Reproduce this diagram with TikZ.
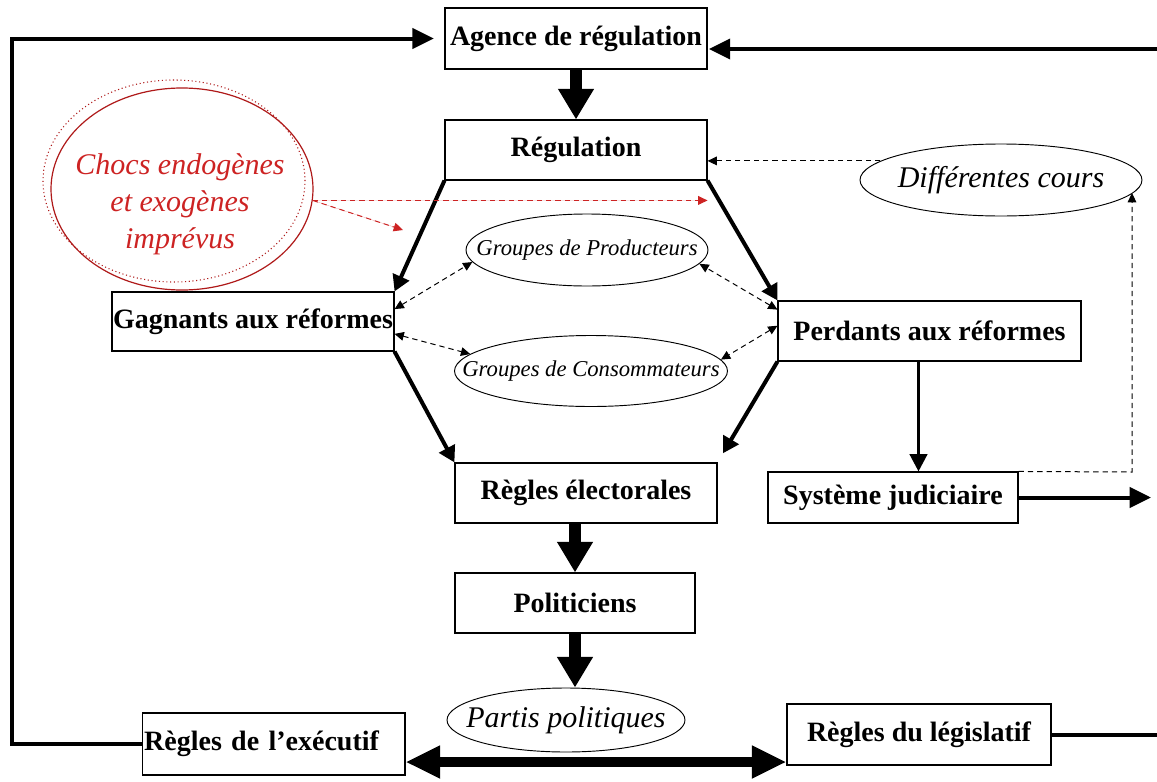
\documentclass[tikz,border=0pt]{standalone}
\usepackage{fontspec}
\setmainfont{Liberation Serif}
\usetikzlibrary{arrows.meta,shapes.geometric}
\definecolor{chocred}{RGB}{205,35,35}
\definecolor{chocline}{RGB}{175,25,25}
\begin{document}
\begin{tikzpicture}[x=0.75pt,y=-0.75pt,
  box/.style={draw, line width=0.8pt, fill=white, inner sep=0pt, font=\fontsize{21}{25}\selectfont\bfseries},
  oval/.style={draw, ellipse, line width=0.7pt, inner sep=0pt},
  ovaltext/.style={font=\fontsize{22.5}{27}\selectfont\itshape, inner sep=0pt},
  smallovaltext/.style={font=\fontsize{17}{20}\selectfont\itshape, inner sep=0pt},
  blockarrow/.style={line width=9pt, -{Triangle[length=23pt,width=25.5pt]}},
  heavy/.style={line width=3pt, -{Triangle[length=12pt,width=13pt]}},
  medarrow/.style={line width=2.4pt, -{Triangle[length=13pt,width=13pt]}},
  feed/.style={line width=3pt, -{Triangle[length=16pt,width=15pt]}},
  plainline/.style={line width=3pt},
  dashlink/.style={line width=0.75pt, dash pattern=on 4pt off 3pt, -{Triangle[length=7pt,width=6.5pt]}},
  dashboth/.style={line width=0.75pt, dash pattern=on 4pt off 3pt, {Triangle[length=7pt,width=6.5pt]}-{Triangle[length=7pt,width=6.5pt]}},
  reddash/.style={dashlink, draw=chocred, fill=chocred},
]
\useasboundingbox (0,0) rectangle (1157,782);
\fill[white] (0,0) rectangle (1157,782);

% boxes
\node[box, minimum width=196.5pt, minimum height=45.75pt] (agence) at (576,38.5) {Agence de régulation};
\node[box, minimum width=196.5pt, minimum height=45pt] (regul) at (576,150) {Régulation};
\node[box, minimum width=211.5pt, minimum height=44.25pt] (gagn) at (253,321.5) {Gagnants aux réformes};
\node[box, minimum width=227.25pt, minimum height=45pt] (perd) at (929.5,331) {Perdants aux réformes};
\node[box, minimum width=187.5pt, minimum height=38.25pt] (syst) at (893,497.5) {Système judiciaire};
\node[box, minimum width=196.5pt, minimum height=45pt] (elect) at (586,493) {Règles électorales};
\node[box, minimum width=180pt, minimum height=45pt] (polit) at (575,603) {Politiciens};
\node[box, minimum height=46.5pt, text width=194pt, inner xsep=1.6pt, align=left] (exec) at (273.5,744) {Règles de l’exécutif};
\node[box, minimum width=198pt, minimum height=45.75pt] (legis) at (919,734.5) {Règles du législatif};

% ellipses
\node[ellipse, draw=chocline, dotted, line width=0.8pt, minimum width=196.5pt, minimum height=151.5pt, inner sep=0pt] (chocsdots) at (174,181) {};
\node[ellipse, draw=chocline, line width=0.9pt, minimum width=196.5pt, minimum height=151.5pt, inner sep=0pt] (chocs) at (182,189) {};
\node[text=chocred, align=center, inner sep=0pt, font=\fontsize{22.5}{27.75}\selectfont\itshape] (chocstxt) at (180,204) {Chocs endogènes\\et exogènes\\imprévus};

\node[oval, minimum width=211.5pt, minimum height=54pt, label={[ovaltext]center:Différentes cours}] (diff) at (1001,180) {};
\node[oval, minimum width=181.5pt, minimum height=54pt, label={[smallovaltext]center:Groupes de Producteurs}] (prod) at (587,250) {};
\node[oval, minimum width=204.75pt, minimum height=53.25pt, label={[smallovaltext]center:Groupes de Consommateurs}] (cons) at (591,371) {};
\node[oval, minimum width=178.5pt, minimum height=48pt, label={[ovaltext]center:Partis politiques}] (partis) at (566,720) {};

% block arrows
\draw[blockarrow] (agence.south) -- (regul.north);
\draw[blockarrow] (polit.north |- elect.south) -- (polit.north);
\draw[blockarrow] (polit.south) -- (polit.south |- partis.north);

% hexagon
\draw[heavy] (regul.south west) -- (gagn.north east);
\draw[heavy] (regul.south east) -- (perd.north west);
\draw[heavy] (gagn.south east) -- (elect.north west);
\draw[heavy, shorten >=8pt] (perd.south west) -- (elect.north east);

% perdants -> systeme
\draw[medarrow] ([xshift=-8.25pt]perd.south) -- ([xshift=-8.25pt]perd.south |- syst.north);

% feedback lines
\coordinate (lb) at (12,744);
\coordinate (lt) at (12,38.5);
\draw[feed, shorten >=8pt, line join=miter] (exec.west) -- (lb) -- (lt) -- (agence.west);
\coordinate (rt) at (1157,49);
\draw[feed, shorten >=1pt] (rt) -- (rt -| agence.east);
\coordinate (rb) at (1157,734.5);
\draw[plainline] (legis.east) -- (rb);
\coordinate (sysout) at (1151,500);
\draw[feed] (syst.east) -- (syst.east -| sysout);

% bottom double arrow
\coordinate (bary) at (0,762);
\draw[line width=7.5pt, {Triangle[length=26pt,width=23pt]}-{Triangle[length=26pt,width=23pt]}] (exec.east |- bary) -- (legis.west |- bary);

% dashed links
\draw[dashlink] (diff.171) -- (regul.east |- diff.171);
\coordinate (dj) at (1132,472);
\coordinate (dtop) at (1132,193);
\draw[dashlink] (syst.north east) -- (dj) -- (dtop);

\draw[dashboth] (gagn.5) -- (prod.186);
\draw[dashboth] (gagn.-5) -- (cons.172);
\draw[dashboth] (perd.172) -- (prod.-7);
\draw[dashboth] (perd.178) -- (cons.5);

% red shocks
\coordinate (cd) at (403,230);
\draw[reddash] (chocs.-5) -- (regul.east |- chocs.-5);
\draw[reddash] (chocs.-5) -- (cd);
\end{tikzpicture}
\end{document}
